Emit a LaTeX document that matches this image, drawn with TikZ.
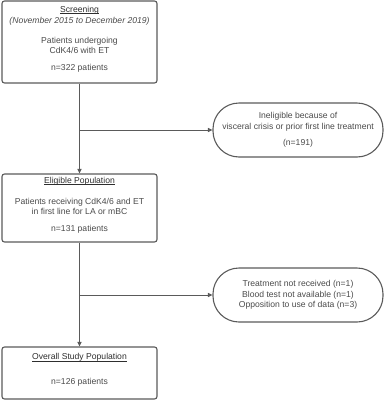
\documentclass[tikz,border=0pt]{standalone}
\usepackage{fontspec}
\setmainfont{Liberation Sans}
\usetikzlibrary{arrows.meta,positioning}
\definecolor{boxgray}{HTML}{5A5A5A}
\definecolor{txtgray}{HTML}{4A4A4A}
\definecolor{titlegray}{HTML}{2E2E2E}
\tikzset{
    stage/.style={draw=boxgray, line width=1.1pt, rounded corners=2.5pt, minimum width=155pt,
        align=center, text=txtgray, font=\fontsize{8.6}{10}\selectfont, inner sep=0pt},
    excluded/.style={draw=boxgray, line width=1.1pt, rounded corners=26pt, minimum width=170pt,
        minimum height=54pt, align=center, text=txtgray, font=\fontsize{8.6}{10.5}\selectfont, inner sep=0pt},
    flow/.style={draw=boxgray, line width=1pt, -{Triangle[length=4.5pt,width=4pt]}}
}
\newcommand{\stagetitle}[1]{\textcolor{titlegray}{\underline{\smash{#1}}}}
\begin{document}
\begin{tikzpicture}[x=1pt,y=1pt]
    \useasboundingbox (0,0) rectangle (386,-400);

    \node[stage, minimum height=82pt] (scr) at (79.5,-42) {\stagetitle{Screening}\\[1pt]
        \textit{(November 2015 to December 2019)}\\[10pt]
        Patients undergoing\\ CdK4/6 with ET\\[7pt] n=322 patients};
    \node[stage, minimum height=68pt] (elig) at (79.5,-208) {\stagetitle{Eligible Population}\\[11pt]
        Patients receiving CdK4/6 and ET\\ in first line for LA or mBC\\[7pt] n=131 patients};
    \node[stage, minimum height=52pt] (overall) at (79.5,-373) {\stagetitle{Overall Study Population}\\[15pt]
        n=126 patients};

    \node[excluded] (inelig) at (298,-130) {Ineligible because of\\ visceral crisis or prior first line treatment\\[6pt] (n=191)};
    \node[excluded] (excl) at (298,-295) {Treatment not received (n=1)\\ Blood test not available (n=1)\\ Opposition to use of data (n=3)};

    \coordinate (br1) at (scr.south |- inelig.west);
    \coordinate (br2) at (elig.south |- excl.west);

    \draw[flow] (scr.south) -- (elig.north);
    \draw[flow] (br1) -- (inelig.west);
    \draw[flow] (elig.south) -- (overall.north);
    \draw[flow] (br2) -- (excl.west);
\end{tikzpicture}
\end{document}
